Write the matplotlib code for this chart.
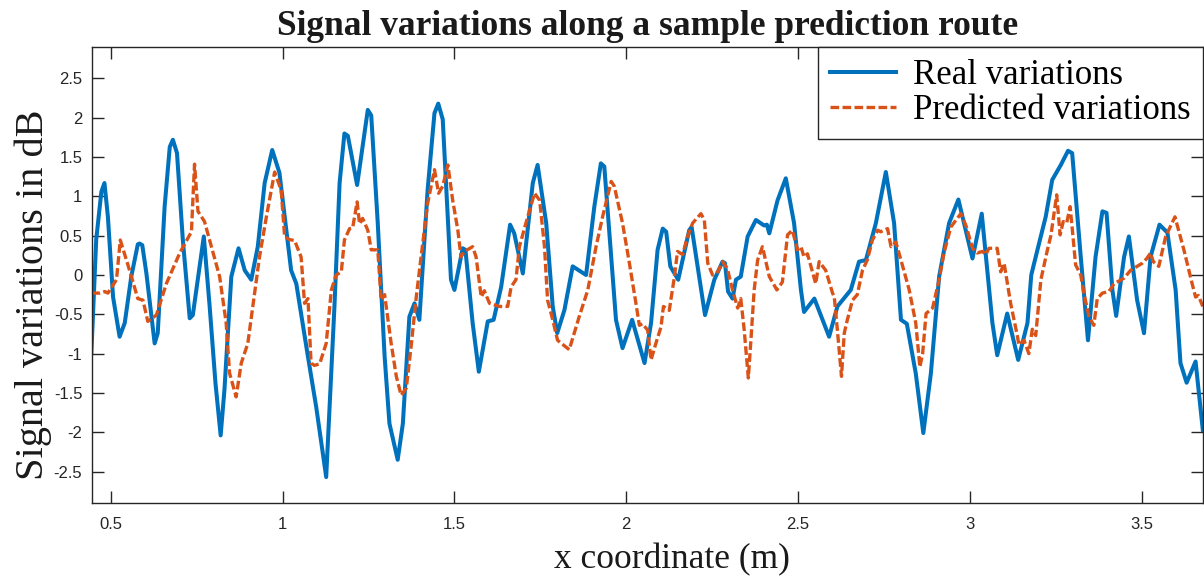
import numpy as np
import matplotlib.pyplot as plt

# ------------------------------------------
# data (x in m, y in dB)
# ------------------------------------------
real_x = [0.444, 0.458, 0.473, 0.482, 0.492, 0.507, 0.526, 0.541, 0.560, 0.579,
          0.584, 0.592, 0.604, 0.628, 0.637, 0.657, 0.672, 0.681, 0.693, 0.710,
          0.730, 0.739, 0.771, 0.788, 0.805, 0.820, 0.831, 0.851, 0.872, 0.890,
          0.909, 0.928, 0.948, 0.970, 0.991, 1.025, 1.040, 1.074, 1.098, 1.127,
          1.151, 1.166, 1.180, 1.190, 1.217, 1.248, 1.258, 1.277, 1.297, 1.311,
          1.335, 1.350, 1.369, 1.384, 1.398, 1.422, 1.442, 1.453, 1.466, 1.490,
          1.500, 1.519, 1.524, 1.532, 1.553, 1.571, 1.597, 1.614, 1.636, 1.662,
          1.674, 1.699, 1.728, 1.742, 1.767, 1.786, 1.799, 1.820, 1.844, 1.883,
          1.907, 1.926, 1.936, 1.970, 1.989, 2.017, 2.053, 2.072, 2.091, 2.106,
          2.116, 2.128, 2.151, 2.183, 2.190, 2.229, 2.256, 2.280, 2.287, 2.296,
          2.309, 2.319, 2.333, 2.353, 2.377, 2.401, 2.409, 2.416, 2.440, 2.464,
          2.488, 2.508, 2.517, 2.547, 2.590, 2.614, 2.653, 2.677, 2.697, 2.726,
          2.755, 2.779, 2.799, 2.816, 2.842, 2.864, 2.886, 2.910, 2.939, 2.966,
          3.007, 3.034, 3.065, 3.079, 3.108, 3.140, 3.167, 3.178, 3.196, 3.220,
          3.239, 3.264, 3.285, 3.297, 3.322, 3.343, 3.365, 3.385, 3.397, 3.414,
          3.425, 3.448, 3.462, 3.486, 3.506, 3.525, 3.551, 3.574, 3.598, 3.612,
          3.630, 3.656, 3.677]
real_y = [-0.98, 0.45, 1.06, 1.17, 0.74, -0.28, -0.785, -0.61, -0.02, 0.39,
          0.40, 0.38, 0.02, -0.87, -0.74, 0.87, 1.63, 1.72, 1.55, 0.445,
          -0.55, -0.51, 0.49, -0.40, -1.38, -2.04, -1.46, -0.02, 0.34, 0.06,
          -0.06, 0.36, 1.17, 1.59, 1.30, 0.06, -0.11, -1.04, -1.68, -2.57,
          -0.40, 1.17, 1.80, 1.77, 1.145, 2.10, 2.03, 0.66, -1.04, -1.89,
          -2.35, -1.89, -0.53, -0.36, -0.57, 1.08, 2.06, 2.18, 1.98, -0.06,
          -0.19, 0.23, 0.34, 0.32, -0.61, -1.23, -0.59, -0.57, -0.15, 0.64,
          0.53, 0.02, 1.17, 1.40, 0.66, -0.40, -0.74, -0.445, 0.11, 0.0,
          0.87, 1.42, 1.38, -0.57, -0.93, -0.57, -1.12, -0.61, 0.32, 0.59,
          0.55, 0.11, -0.06, 0.57, 0.61, -0.51, -0.06, 0.17, 0.15, -0.21,
          -0.30, -0.06, -0.02, 0.49, 0.70, 0.63, 0.64, 0.53, 0.95, 1.23,
          0.66, -0.19, -0.47, -0.30, -0.785, -0.40, -0.19, 0.17, 0.19, 0.66,
          1.31, 0.66, -0.57, -0.62, -1.25, -2.01, -1.25, -0.02, 0.66, 0.96,
          0.21, 0.78, -0.61, -1.02, -0.49, -1.08, -0.61, 0.0, 0.32, 0.74,
          1.21, 1.40, 1.58, 1.55, 0.23, -0.83, 0.23, 0.81, 0.79, -0.19,
          -0.52, 0.23, 0.49, -0.32, -0.74, 0.23, 0.64, 0.54, -0.19, -1.12,
          -1.37, -1.10, -1.97]

pred_x = [0.444, 0.468, 0.483, 0.492, 0.517, 0.528, 0.555, 0.579, 0.594, 0.608,
          0.633, 0.662, 0.701, 0.735, 0.744, 0.754, 0.773, 0.817, 0.836, 0.846,
          0.865, 0.880, 0.899, 0.933, 0.953, 0.977, 0.996, 1.006, 1.020, 1.035,
          1.054, 1.064, 1.074, 1.083, 1.093, 1.108, 1.127, 1.142, 1.156, 1.171,
          1.180, 1.195, 1.204, 1.217, 1.224, 1.233, 1.248, 1.258, 1.277, 1.287,
          1.297, 1.316, 1.331, 1.345, 1.360, 1.374, 1.389, 1.403, 1.422, 1.442,
          1.454, 1.466, 1.481, 1.495, 1.510, 1.519, 1.529, 1.553, 1.563, 1.578,
          1.587, 1.602, 1.631, 1.655, 1.665, 1.679, 1.689, 1.708, 1.733, 1.748,
          1.762, 1.771, 1.786, 1.800, 1.834, 1.863, 1.888, 1.912, 1.931, 1.956,
          1.965, 1.989, 2.009, 2.028, 2.038, 2.047, 2.062, 2.072, 2.086, 2.101,
          2.108, 2.125, 2.140, 2.149, 2.164, 2.178, 2.193, 2.217, 2.227, 2.237,
          2.251, 2.266, 2.280, 2.294, 2.309, 2.324, 2.333, 2.343, 2.355, 2.362,
          2.372, 2.382, 2.396, 2.416, 2.438, 2.454, 2.469, 2.483, 2.498, 2.508,
          2.517, 2.527, 2.551, 2.561, 2.580, 2.600, 2.605, 2.614, 2.626, 2.634,
          2.643, 2.658, 2.672, 2.687, 2.701, 2.716, 2.731, 2.740, 2.760, 2.770,
          2.784, 2.799, 2.823, 2.842, 2.854, 2.862, 2.872, 2.891, 2.910, 2.924,
          2.944, 2.973, 2.988, 3.007, 3.021, 3.036, 3.046, 3.055, 3.079, 3.089,
          3.099, 3.118, 3.138, 3.142, 3.157, 3.171, 3.181, 3.191, 3.206, 3.225,
          3.235, 3.252, 3.262, 3.271, 3.281, 3.291, 3.297, 3.307, 3.322, 3.331,
          3.346, 3.360, 3.370, 3.385, 3.404, 3.419, 3.448, 3.467, 3.501, 3.514,
          3.525, 3.533, 3.549, 3.569, 3.596, 3.622, 3.646, 3.656, 3.664, 3.677]
pred_y = [-0.23, -0.23, -0.21, -0.23, -0.06, 0.445, 0.06, -0.30, -0.32, -0.59,
          -0.51, -0.11, 0.28, 0.55, 1.41, 0.81, 0.68, -0.02, -0.61, -1.25,
          -1.55, -1.12, -0.87, 0.23, 0.74, 1.31, 1.08, 0.49, 0.45, 0.44,
          0.23, -0.36, -0.30, -1.12, -1.15, -1.13, -0.87, -0.19, 0.0, 0.04,
          0.445, 0.59, 0.60, 0.93, 0.65, 0.72, 0.57, 0.32, 0.32, -0.32,
          -0.25, -0.87, -1.29, -1.53, -1.44, -0.91, -0.28, 0.23, 0.91, 1.34,
          1.04, 1.13, 1.40, 0.95, 0.57, 0.23, 0.30, 0.36, 0.23, -0.28,
          -0.20, -0.36, -0.40, -0.40, -0.15, -0.06, 0.36, 0.66, 1.04, 0.95,
          0.36, -0.32, -0.57, -0.83, -0.95, -0.53, -0.19, 0.36, 0.74, 1.19,
          1.13, 0.66, 0.15, -0.36, -0.64, -0.62, -0.70, -1.08, -0.87, -0.66,
          -0.40, -0.45, -0.02, 0.30, 0.26, 0.49, 0.66, 0.78, 0.70, 0.15,
          0.0, 0.04, 0.17, 0.08, -0.19, -0.42, -0.30, -0.70, -1.31, -0.86,
          -0.19, 0.19, 0.36, -0.02, -0.19, -0.09, 0.51, 0.57, 0.32, 0.36,
          0.23, 0.27, -0.11, 0.17, 0.06, -0.23, -0.28, -0.70, -1.29, -0.74,
          -0.57, -0.32, -0.25, 0.06, 0.19, 0.445, 0.57, 0.55, 0.59, 0.36,
          0.42, 0.19, -0.19, -0.61, -1.17, -1.0, -0.49, -0.42, -0.06, 0.28,
          0.61, 0.78, 0.63, 0.34, 0.28, 0.30, 0.26, 0.34, 0.34, 0.04,
          0.15, -0.36, -0.785, -0.89, -0.83, -1.0, -0.69, -0.77, -0.06, 0.32,
          0.50, 1.02, 0.51, 0.68, 0.66, 0.87, 0.60, 0.13, 0.0, -0.23,
          -0.53, -0.64, -0.30, -0.23, -0.21, -0.11, -0.04, 0.06, 0.15, 0.21,
          0.28, 0.17, 0.11, 0.49, 0.74, 0.32, -0.11, -0.28, -0.26, -0.40]

X_TICKS = [0.5, 1, 1.5, 2, 2.5, 3, 3.5]
X_TICK_LABELS = ['0.5', '1', '1.5', '2', '2.5', '3', '3.5']
Y_TICKS = [-2.5, -2, -1.5, -1, -0.5, 0, 0.5, 1, 1.5, 2, 2.5]
Y_TICK_LABELS = ['-2.5', '-2', '-1.5', '-1', '-0.5', '0', '0.5', '1', '1.5', '2', '2.5']

BLUE = '#0072BD'
ORANGE = '#D95319'
AXIS_COLOR = '#262626'
TEXT_COLOR = '#1a1a1a'

# ------------------------------------------
# figure
# ------------------------------------------
fig = plt.figure(figsize=(12.04, 5.84), dpi=100)
ax = fig.add_axes([0.0764, 0.1387, 0.9226, 0.7808])

ax.plot(real_x, real_y, color=BLUE, lw=2.9, label='Real variations',
        solid_joinstyle='round')
ax.plot(pred_x, pred_y, color=ORANGE, lw=2.4, linestyle=(0, (2.6, 1.0)),
        label='Predicted variations')

ax.set_xlim(0.4457, 3.677)
ax.set_ylim(-2.9, 2.9)
ax.set_xticks(X_TICKS)
ax.set_xticklabels(X_TICK_LABELS)
ax.set_yticks(Y_TICKS)
ax.set_yticklabels(Y_TICK_LABELS)

ax.tick_params(direction='in', length=8.5, width=1, colors=AXIS_COLOR,
               top=True, right=True, labelsize=12)
ax.tick_params(axis='x', pad=10)
ax.tick_params(axis='y', pad=7)
for lab in ax.get_xticklabels() + ax.get_yticklabels():
    lab.set_fontfamily('Liberation Sans')
for sp in ax.spines.values():
    sp.set_color(AXIS_COLOR)
    sp.set_linewidth(1.0)

ax.set_title('Signal variations along a sample prediction route',
             fontfamily='Liberation Serif', fontweight='bold', fontsize=25.5,
             color=TEXT_COLOR, pad=9)
ax.set_xlabel('x coordinate (m)', fontfamily='Liberation Serif', fontsize=25.5,
              color=TEXT_COLOR, labelpad=8)
ax.set_ylabel('Signal variations in dB', fontfamily='Liberation Serif',
              fontsize=29, color=TEXT_COLOR, labelpad=1)
ax.xaxis.label.set_x(0.522)
ax.yaxis.label.set_y(0.456)

leg = ax.legend(loc='upper right', prop={'family': 'Liberation Serif', 'size': 25},
                frameon=True, fancybox=False, borderaxespad=0,
                handlelength=1.9, handletextpad=0.5, borderpad=0.35,
                labelspacing=0.05)
leg.get_frame().set_edgecolor(AXIS_COLOR)
leg.get_frame().set_linewidth(1.0)
leg.get_frame().set_alpha(1)

fig.savefig('out.png', dpi=100, facecolor='white')
